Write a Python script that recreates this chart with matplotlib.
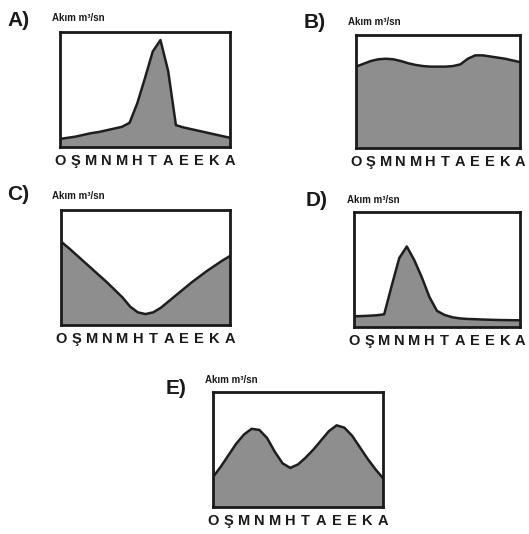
import numpy as np
import matplotlib
matplotlib.use("Agg")
import matplotlib.pyplot as plt

plt.rcParams['font.family'] = ['Liberation Sans', 'DejaVu Sans']

# Month initials (Turkish): Ocak ... Aralık
month_labels = ["O", "Ş", "M", "N", "M", "H", "T", "A", "E", "E", "K", "A"]
# Readings taken every half month (0 = Ocak ... 11 = Aralık)
x_pos = np.arange(0, 11.01, 0.5)

# Relative discharge (% of box height)
flow_A = [7, 8, 9, 10.5, 12, 13, 14.5, 16, 17.5, 21, 38, 60, 83, 93,
          66, 19, 17, 15.5, 14, 12.5, 11, 9.5, 8]
flow_B = [72, 74.5, 77, 78.5, 79, 78.5, 77, 75, 73.5, 72.5, 72, 72,
          72, 72.5, 74, 79, 82, 82, 81, 80, 79, 77.5, 76]
flow_C = [72.5, 67, 61, 55, 49, 43, 37, 30.5, 24, 16, 11, 9.5, 11,
          15, 20.5, 26, 31.5, 37, 42, 47, 51.5, 56, 60]
flow_D = [9.3, 9.5, 9.8, 10.2, 11, 36, 60, 70, 58, 43, 26, 14, 10.5,
          8.5, 7.5, 7, 6.8, 6.5, 6.3, 6.1, 6, 5.9, 5.8]
flow_E = [26, 35, 45, 55, 63, 68, 67, 60, 48, 38, 34, 37, 43, 50, 58,
          66, 71, 69, 62, 52, 42, 33, 25]

option_letters = ["A)", "B)", "C)", "D)", "E)"]
y_title = "Akım m³/sn"

W, H = 529, 534
fig = plt.figure(figsize=(W / 100, H / 100), dpi=100)
fig.patch.set_facecolor("white")

def rect(x0, y0, x1, y1):
    return [x0 / W, 1 - y1 / H, (x1 - x0) / W, (y1 - y0) / H]

panels = [
    (flow_A, rect(60, 32, 230, 147), (19, 21), (52, 18)),
    (flow_B, rect(356, 35, 520, 148), (315, 22), (348, 22)),
    (flow_C, rect(61, 210, 230, 325), (18, 195), (52, 196)),
    (flow_D, rect(354, 212, 520, 327), (317, 200), (347, 200)),
    (flow_E, rect(213, 392, 383, 507), (176, 388), (205, 380)),
]

for (vals, r, lab_xy, tit_xy), lab in zip(panels, option_letters):
    ax = fig.add_axes(r)
    ax.fill_between(x_pos, 0, vals, color="#8e8e8e", lw=0)
    ax.plot(x_pos, vals, color="#1e1e1e", lw=1.8)
    ax.set_xlim(0, 11)
    ax.set_ylim(0, 100)
    ax.set_xticks(range(12))
    ax.set_xticklabels(month_labels, fontweight="bold", fontsize=10.5,
                       color="#1a1a1a")
    ax.tick_params(axis="x", length=0, pad=5)
    ax.set_yticks([])
    for s in ax.spines.values():
        s.set_linewidth(2)
        s.set_color("#1a1a1a")
    fig.text(lab_xy[0] / W, 1 - lab_xy[1] / H, lab, fontsize=15,
             fontweight="bold", ha="center", va="center", color="#1a1a1a")
    fig.text(tit_xy[0] / W, 1 - tit_xy[1] / H, y_title, fontsize=7,
             fontweight="bold", ha="left", va="center", color="#1a1a1a")

fig.savefig("out.png", dpi=100, facecolor="white")
